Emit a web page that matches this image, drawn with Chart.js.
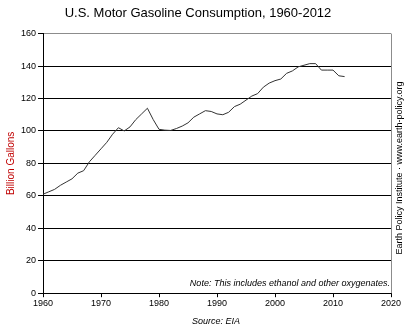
<!DOCTYPE html>
<html lang="en">
  <head>
    <meta charset="UTF-8" />
    <title>U.S. Motor Gasoline Consumption</title>
    <style>
      body {
        margin: 0;
        background: #fff;
      }
      .wrap {
        width: 408px;
        height: 333px;
      }
    </style>
    <script src="https://cdn.jsdelivr.net/npm/chart.js"></script>
  </head>
  <body>
    <div class="wrap"><canvas id="gasChart"></canvas></div>
    <script>
      const years = [];
      for (let y = 1960; y <= 2012; y++) years.push(y);
      const consumption = [
        61, 62.5, 64, 66.5, 68.5, 70.5, 74, 75.5, 81, 85,
        89, 93, 98, 102, 100, 102.5, 107, 110.5, 114, 107,
        101, 100.5, 100.3, 101.5, 103, 105, 108.5, 110.5, 112.5, 112,
        110.5, 110, 111.5, 115, 116.5, 119, 121.5, 123, 127, 129.5,
        131, 132, 135.5, 137, 139.5, 140.5, 141.5, 141.5, 137.5, 137.5,
        137.5, 134, 133.5
      ];
      const fontFam = "'Liberation Sans', Arial, sans-serif";

      const extras = {
        id: "extras",
        afterDraw(chart) {
          const { ctx, chartArea } = chart;
          ctx.save();
          // grey frame on the right
          ctx.strokeStyle = "#8c8c8c";
          ctx.lineWidth = 1;
          ctx.beginPath();
          ctx.moveTo(Math.round(chartArea.right) + 0.5, chartArea.top);
          ctx.lineTo(Math.round(chartArea.right) + 0.5, chartArea.bottom);
          ctx.stroke();
          // note
          ctx.fillStyle = "#000";
          ctx.font = "italic 9px " + fontFam;
          ctx.textAlign = "right";
          ctx.textBaseline = "middle";
          ctx.fillText("Note: This includes ethanol and other oxygenates.", chartArea.right - 1, 283);
          // source
          ctx.textAlign = "center";
          ctx.fillText("Source: EIA", 216, 321);
          // right side credit
          ctx.translate(400, 168);
          ctx.rotate(-Math.PI / 2);
          ctx.font = "9px " + fontFam;
          ctx.fillText("Earth Policy Institute \u00b7 www.earth-policy.org", 0, 0);
          ctx.restore();
        }
      };

      new Chart(document.getElementById("gasChart"), {
        type: "line",
        data: {
          labels: years,
          datasets: [{
            data: years.map((y, i) => ({ x: y, y: consumption[i] })),
            borderColor: "#333",
            borderWidth: 1,
            pointRadius: 0,
            tension: 0,
            fill: false
          }]
        },
        options: {
          responsive: true,
          maintainAspectRatio: false,
          animation: false,
          layout: { padding: { left: 5, right: 17, top: 0, bottom: 23 } },
          plugins: {
            legend: { display: false },
            tooltip: { enabled: false },
            title: {
              display: true,
              text: "U.S. Motor Gasoline Consumption, 1960-2012",
              color: "#000",
              font: { family: fontFam, size: 13, weight: "normal" },
              padding: { top: 6, bottom: 12 }
            }
          },
          scales: {
            x: {
              type: "linear",
              min: 1960,
              max: 2020,
              ticks: {
                stepSize: 10,
                color: "#000",
                font: { family: fontFam, size: 9 },
                padding: 1,
                maxRotation: 0,
                callback: v => String(v)
              },
              grid: {
                drawOnChartArea: false,
                drawTicks: true,
                tickLength: 4,
                tickColor: "#000"
              },
              border: { color: "#000", width: 1 }
            },
            y: {
              min: 0,
              max: 160,
              ticks: {
                stepSize: 20,
                color: "#000",
                font: { family: fontFam, size: 9 },
                padding: 2
              },
              grid: {
                color: ctx => ctx.tick && ctx.tick.value === 160 ? "#8c8c8c" : "#000",
                tickColor: "#000",
                tickLength: 5,
                lineWidth: 1
              },
              border: { color: "#000", width: 1 },
              title: {
                display: true,
                text: "Billion Gallons",
                color: "#c00000",
                font: { family: fontFam, size: 10 },
                padding: { top: 0, bottom: 2 }
              }
            }
          }
        },
        plugins: [extras]
      });
    </script>
  </body>
</html>
